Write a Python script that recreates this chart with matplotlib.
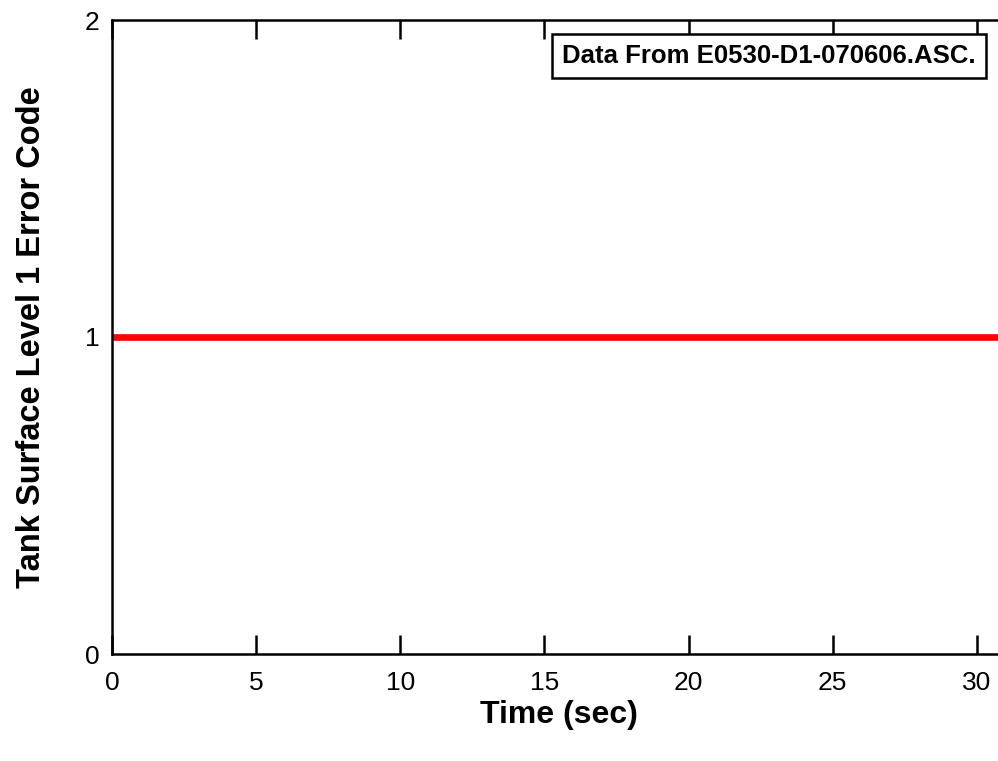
import matplotlib.pyplot as plt
import numpy as np

plt.rcParams['font.family'] = ['Liberation Sans', 'DejaVu Sans']

# datos
tiempo = [0, 5, 10, 15, 20, 25, 30, 31]
codigo_error = [1, 1, 1, 1, 1, 1, 1, 1]
TEXTO = "Data From E0530-D1-070606.ASC."

fig = plt.figure(figsize=(9.98, 7.61), dpi=100)
# ejes que se salen por la derecha, como en el original
x0, x1 = 112 / 998, 112 / 998 + 31 * 28.83 / 998
ax = fig.add_axes([x0, 1 - 654 / 761, x1 - x0, (654 - 20) / 761])

ax.plot(tiempo, codigo_error, color="#ff0000", lw=4.8, solid_capstyle="butt", clip_on=False)

ax.set_xlim(0, 31)
ax.set_ylim(0, 2)
ax.set_xticks([0, 5, 10, 15, 20, 25, 30])
ax.set_yticks([0, 1, 2])
ax.tick_params(axis="x", direction="in", length=14, width=1.8, top=True, labelsize=19, pad=12)
ax.tick_params(axis="y", length=0, labelsize=19, pad=9)
for s in ax.spines.values():
    s.set_linewidth(1.8)

ax.set_xlabel("Time (sec)", fontweight="bold", size=23, labelpad=4)
ax.set_ylabel("Tank Surface Level 1 Error Code", fontweight="bold", size=23.5, labelpad=27)

ax.text(0.9665, 0.962, TEXTO, transform=ax.transAxes, ha="right", va="top",
        fontweight="bold", size=18.5,
        bbox=dict(boxstyle="square,pad=0.4", fc="white", ec="black", lw=1.8))

fig.savefig("out.png", dpi=100)
